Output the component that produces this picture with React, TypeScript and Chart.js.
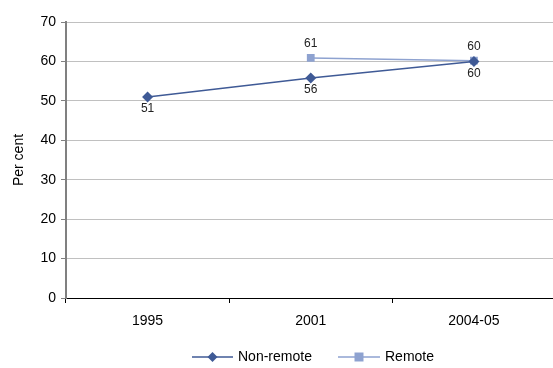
import React, { useEffect, useRef } from "react";
import { Chart, registerables } from "chart.js";

Chart.register(...registerables);

const categories = ["1995", "2001", "2004-05"];
const nonRemote = [51, 55.8, 60];
const remote = [null, 60.9, 60.2];
const nonRemoteLabels = ["51", "56", "60"];
const remoteLabels = ["", "61", "60"];
const yTicks = [0, 10, 20, 30, 40, 50, 60, 70];

const DARK = "#3f5a96";
const LIGHT = "#8ea2d0";
const FONT = "'Liberation Sans', Arial, sans-serif";

const labelPlugin = {
  id: "pointLabels",
  afterDatasetsDraw(chart: any) {
    const ctx = chart.ctx;
    ctx.save();
    ctx.font = `12px ${FONT}`;
    ctx.fillStyle = "#222";
    ctx.textAlign = "center";
    const sets = [
      { idx: 0, labels: nonRemoteLabels, dy: 12, base: "middle" },
      { idx: 1, labels: remoteLabels, dy: -14, base: "middle" },
    ];
    sets.forEach((s) => {
      const meta = chart.getDatasetMeta(s.idx);
      meta.data.forEach((pt: any, i: number) => {
        const t = s.labels[i];
        if (!t) return;
        ctx.textBaseline = s.base;
        ctx.fillText(t, pt.x, pt.y + s.dy);
      });
    });
    ctx.restore();
  },
};

const legendPlugin = {
  id: "customLegend",
  afterDraw(chart: any) {
    const ctx = chart.ctx;
    ctx.save();
    const y = 357;
    const items = [
      { x1: 192, x2: 233, color: DARK, shape: "diamond", text: "Non-remote", tx: 238 },
      { x1: 338, x2: 380, color: LIGHT, shape: "square", text: "Remote", tx: 385 },
    ];
    items.forEach((it) => {
      ctx.strokeStyle = it.color;
      ctx.lineWidth = 1.5;
      ctx.beginPath();
      ctx.moveTo(it.x1, y);
      ctx.lineTo(it.x2, y);
      ctx.stroke();
      const cx = (it.x1 + it.x2) / 2;
      ctx.fillStyle = it.color;
      ctx.beginPath();
      if (it.shape === "diamond") {
        ctx.moveTo(cx, y - 5);
        ctx.lineTo(cx + 5, y);
        ctx.lineTo(cx, y + 5);
        ctx.lineTo(cx - 5, y);
        ctx.closePath();
      } else {
        ctx.rect(cx - 4.5, y - 4.5, 9, 9);
      }
      ctx.fill();
      ctx.fillStyle = "#000";
      ctx.font = `14px ${FONT}`;
      ctx.textAlign = "left";
      ctx.textBaseline = "middle";
      ctx.fillText(it.text, it.tx, y);
    });
    ctx.restore();
  },
};

export default function App() {
  const ref = useRef<HTMLCanvasElement>(null);
  useEffect(() => {
    if (!ref.current) return;
    const chart = new Chart(ref.current, {
      type: "line",
      data: {
        labels: categories,
        datasets: [
          {
            label: "Non-remote",
            data: nonRemote,
            borderColor: DARK,
            backgroundColor: DARK,
            borderWidth: 1.5,
            pointStyle: "rectRot",
            pointRadius: 5.5,
            pointBorderWidth: 0,
          },
          {
            label: "Remote",
            data: remote as any,
            borderColor: LIGHT,
            backgroundColor: LIGHT,
            borderWidth: 1.5,
            pointStyle: "rect",
            pointRadius: 5.5,
            pointBorderWidth: 0,
          },
        ],
      },
      options: {
        responsive: false,
        animation: false,
        layout: { padding: { top: 22, left: 0, right: 0, bottom: 0 } },
        plugins: {
          legend: { display: false },
          tooltip: { enabled: false },
        },
        scales: {
          x: {
            offset: true,
            grid: {
              offset: true,
              drawOnChartArea: false,
              drawTicks: true,
              tickLength: 5,
              color: "#000",
            },
            border: { color: "#000", width: 1 },
            ticks: {
              color: "#000",
              font: { family: FONT, size: 14 },
              padding: 10,
            },
            afterFit: (s: any) => {
              s.height = 70;
            },
          },
          y: {
            min: 0,
            max: 70,
            afterBuildTicks: (s: any) => {
              s.ticks = yTicks.map((v) => ({ value: v }));
            },
            grid: {
              color: (c: any) => (c.tick && c.tick.value === 0 ? "#000" : "#c0c0c0"),
              tickColor: "#808080",
              tickLength: 5,
              lineWidth: 1,
            },
            border: { color: "#808080", width: 2 },
            ticks: {
              color: "#000",
              font: { family: FONT, size: 14 },
              padding: 5,
            },
            title: {
              display: true,
              text: "Per cent",
              color: "#000",
              font: { family: FONT, size: 14 },
              padding: { top: 11, bottom: 0 },
            },
            afterFit: (s: any) => {
              s.width = 66;
            },
          },
        },
      },
      plugins: [labelPlugin, legendPlugin],
    });
    return () => chart.destroy();
  }, []);
  return (
    <div style={{ position: "absolute", left: 0, top: 0, width: 553, height: 368, overflow: "hidden", background: "#fff" }}>
      <canvas ref={ref} width={561} height={368} style={{ display: "block" }} />
    </div>
  );
}
